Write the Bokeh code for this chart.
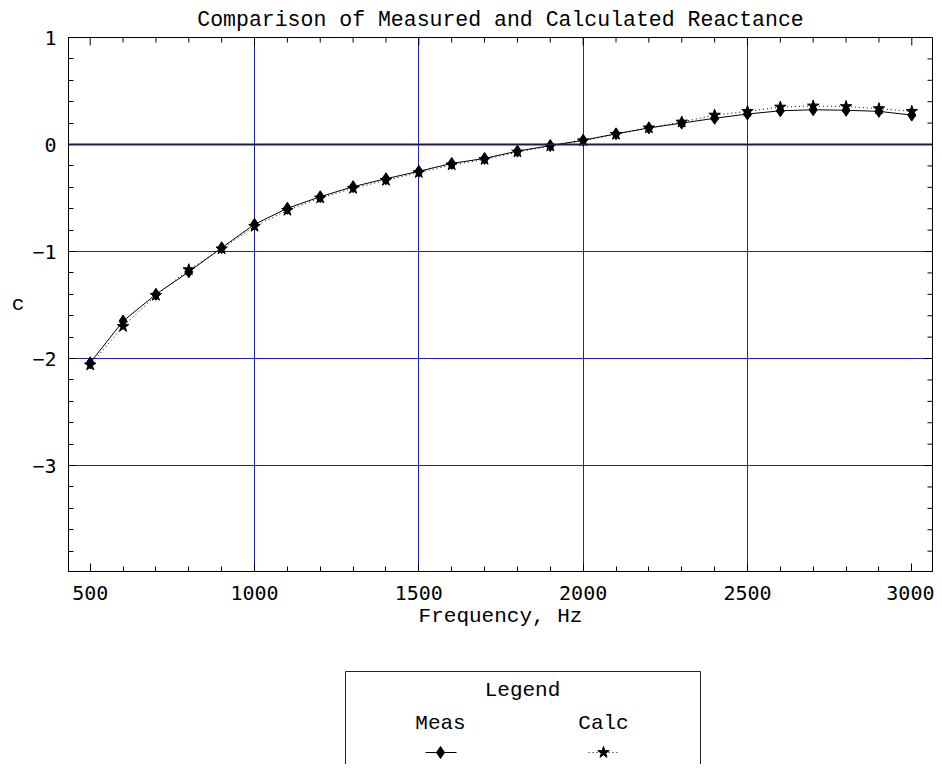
from bokeh.plotting import figure
from bokeh.models import Range1d, FixedTicker, Span, ColumnDataSource
from bokeh.layouts import column
from bokeh.embed import file_html
from bokeh.resources import INLINE
from bokeh.core.properties import value

# ---- data ----
freq = [500, 600, 700, 800, 900, 1000, 1100, 1200, 1300, 1400, 1500, 1600, 1700,
        1800, 1900, 2000, 2100, 2200, 2300, 2400, 2500, 2600, 2700, 2800, 2900, 3000]
meas = [-2.04, -1.65, -1.40, -1.19, -0.965, -0.746, -0.596, -0.488, -0.394, -0.32,
        -0.25, -0.177, -0.13, -0.062, -0.01, 0.04, 0.10, 0.155, 0.20, 0.245,
        0.285, 0.315, 0.325, 0.32, 0.31, 0.275]
calc = [-2.06, -1.70, -1.41, -1.17, -0.975, -0.765, -0.615, -0.50, -0.41, -0.335,
        -0.262, -0.19, -0.14, -0.07, -0.015, 0.035, 0.095, 0.155, 0.21, 0.275,
        0.31, 0.35, 0.36, 0.355, 0.335, 0.31]
x_major = [500, 1000, 1500, 2000, 2500, 3000]
x_minor = [500, 600, 700, 800, 900, 1000, 1100, 1200, 1300, 1400, 1500, 1600, 1700,
           1800, 1900, 2000, 2100, 2200, 2300, 2400, 2500, 2600, 2700, 2800, 2900, 3000]
x_grid = [1000, 1500, 2000, 2500]
y_major = [-3, -2, -1, 0, 1]
y_labels = ["\u22123", "\u22122", "\u22121", "0", "1"]
y_grid = [-3, -2, -1]
title = "Comparison of Measured and Calculated Reactance"
x_label = "Frequency, Hz"
y_label = "c"
series_names = ["Meas", "Calc"]

MONO = "Liberation Mono"
TICKF = "DejaVu Sans Mono"
GRID = "#2020b0"

XR = (434, 3063)
YR = (-3.99, 1.0)
FW, FH = 864, 534

y_minor = [round(-4 + 0.2 * i, 1) for i in range(26)]

p = figure(frame_width=FW, frame_height=FH,
           x_range=Range1d(*XR), y_range=Range1d(*YR),
           output_backend="svg", toolbar_location=None,
           min_border_left=68, min_border_right=2, min_border_top=30,
           min_border_bottom=78, background_fill_color="white",
           border_fill_color="white")
p.outline_line_color = "black"

p.title.text = title
p.title.text_font = MONO
p.title.text_font_size = "21.5px"
p.title.text_font_style = "normal"
p.title.align = "center"
p.title.text_color = "black"
p.title.standoff = 11

for ax in (p.xaxis[0], p.yaxis[0]):
    ax.axis_line_color = "black"
    ax.major_tick_in = 8
    ax.major_tick_out = 0
    ax.minor_tick_in = 5
    ax.minor_tick_out = 0
    ax.major_tick_line_color = "black"
    ax.minor_tick_line_color = "black"
    ax.major_label_text_font = TICKF
    ax.major_label_text_font_size = "20px"
    ax.major_label_text_color = "black"
    ax.axis_label_text_font = MONO
    ax.axis_label_text_font_size = "21px"
    ax.axis_label_text_font_style = "normal"
    ax.axis_label_text_color = "black"

p.xaxis.ticker = FixedTicker(ticks=x_major, minor_ticks=x_minor)
p.yaxis.ticker = FixedTicker(ticks=y_major, minor_ticks=y_minor)
p.yaxis.major_label_overrides = {v: s for v, s in zip(y_major, y_labels)}
p.xaxis.axis_label = x_label
p.xaxis.axis_label_standoff = 2
p.xaxis.major_label_standoff = 14
p.yaxis.axis_label = y_label
p.yaxis.axis_label_orientation = "horizontal"
p.yaxis.major_label_standoff = 12

# tick marks on the top and right frame edges
px_x = (XR[1] - XR[0]) / FW
px_y = (YR[1] - YR[0]) / FH
top_len = [(8 if f in x_major else 5) * px_y for f in x_minor]
p.segment(x0=x_minor, x1=x_minor, y0=[YR[1]] * len(x_minor),
          y1=[YR[1] - L for L in top_len], line_color="black", line_width=1)
right_len = [(8 if v in y_major else 5) * px_x for v in y_minor]
p.segment(x0=[XR[1]] * len(y_minor), x1=[XR[1] - L for L in right_len],
          y0=y_minor, y1=y_minor, line_color="black", line_width=1)

p.xgrid.ticker = FixedTicker(ticks=x_grid)
p.ygrid.ticker = FixedTicker(ticks=y_grid)
p.xgrid.grid_line_color = GRID
p.ygrid.grid_line_color = GRID
p.add_layout(Span(location=0, dimension="width", line_color="#1c1c48", line_width=2))

src = ColumnDataSource(dict(f=freq, m=meas, c=calc))
p.line("f", "c", source=src, line_color="black", line_width=1, line_dash="1 3")
p.line("f", "m", source=src, line_color="black", line_width=1)
p.scatter("f", "c", source=src, marker="star", size=12, fill_color="black", line_color="black")
p.scatter("f", "m", source=src, marker="diamond", size=12, fill_color="black", line_color="black")

# ---- legend panel (coordinates in pixels relative to the plot frame) ----
leg = figure(frame_width=FW, height=115, x_range=Range1d(0, FW), y_range=Range1d(115, 0),
             output_backend="svg", toolbar_location=None,
             min_border_left=68, min_border_right=2, min_border_top=0, min_border_bottom=0,
             x_axis_location=None, y_axis_location=None)
leg.outline_line_color = None
leg.grid.visible = False
leg.quad(left=[277], right=[632], top=[22], bottom=[400], fill_color=None,
         line_color="#222222", line_width=1)
leg.text(x=[454], y=[41], text=["Legend"], text_font=value(MONO), text_font_size="21px",
         text_align="center", text_baseline="middle", text_color="black")
leg.text(x=[372, 535], y=[74, 74], text=series_names, text_font=value(MONO),
         text_font_size="21px", text_align="center", text_baseline="middle", text_color="black")
leg.line(x=[357, 388], y=[103, 103], line_color="black", line_width=1)
leg.scatter(x=[372], y=[103], marker="diamond", size=12, fill_color="black", line_color="black")
leg.line(x=[520, 552], y=[103, 103], line_color="black", line_width=1, line_dash="1 3")
leg.scatter(x=[535], y=[103], marker="star", size=12, fill_color="black", line_color="black")

layout = column(p, leg, spacing=0)
open("out.html", "w").write(file_html(layout, INLINE))
